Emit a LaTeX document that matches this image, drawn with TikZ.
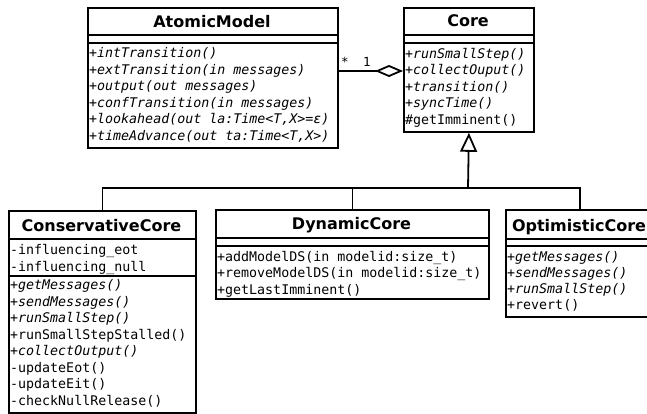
\documentclass[tikz,border=0pt]{standalone}
\usepackage{fontspec}
\usetikzlibrary{arrows.meta}
\newfontfamily\umlsans{DejaVu Sans}
\newfontfamily\umlmono{DejaVu Sans Mono}[ItalicFont={DejaVu Sans Mono Oblique}]
\tikzset{
  umlbox/.style={draw, line width=1.8pt, inner sep=0pt, anchor=north west, fill=white},
  sepline/.style={line width=1.8pt},
  title/.style={font=\umlsans\bfseries\fontsize{16}{18}\selectfont, anchor=base, inner sep=0pt},
  member/.style={font=\umlmono\fontsize{13.3}{16}\selectfont, anchor=base west, inner sep=0pt},
  abstract/.style={member, font=\umlmono\itshape\fontsize{13.3}{16}\selectfont},
  mult/.style={font=\umlmono\fontsize{12.5}{14}\selectfont, anchor=base, inner sep=0pt},
  conn/.style={line width=1.8pt},
}
\begin{document}
\begin{tikzpicture}[x=1pt,y=-1pt]
\clip (0,0) rectangle (647,414);
\fill[white] (0,0) rectangle (647,414);

% ---------- AtomicModel ----------
\node[umlbox, minimum width=250pt, minimum height=140pt] (am) at (87,7) {};
\draw[sepline] (am.west |- 0,35) -- (am.east |- 0,35);
\draw[sepline] (am.west |- 0,43) -- (am.east |- 0,43);
\node[title] (amt) at (212,27.8) {AtomicModel};
\node[abstract] (am1) at (89,58) {+intTransition()};
\node[abstract] (am2) at (89,74.5) {+extTransition(in messages)};
\node[abstract] (am3) at (89,91) {+output(out messages)};
\node[abstract] (am4) at (89,107.5) {+confTransition(in messages)};
\node[abstract] (am5) at (89,124) {+lookahead(out la:Time<T,X>=ε)};
\node[abstract] (am6) at (89,140.5) {+timeAdvance(out ta:Time<T,X>)};

% ---------- Core ----------
\node[umlbox, minimum width=130pt, minimum height=124pt] (core) at (403,7) {};
\draw[sepline] (core.west |- 0,35) -- (core.east |- 0,35);
\draw[sepline] (core.west |- 0,43) -- (core.east |- 0,43);
\node[title] (coret) at (468,27) {Core};
\node[abstract] (c1) at (405,58.5) {+runSmallStep()};
\node[abstract] (c2) at (405,75) {+collectOuput()};
\node[abstract] (c3) at (405,91.5) {+transition()};
\node[abstract] (c4) at (405,108) {+syncTime()};
\node[member] (c5) at (405,124.5) {\#getImminent()};

% ---------- ConservativeCore ----------
\node[umlbox, minimum width=187pt, minimum height=202pt] (cc) at (8,210) {};
\draw[sepline] (cc.west |- 0,239) -- (cc.east |- 0,239);
\draw[sepline] (cc.west |- 0,276) -- (cc.east |- 0,276);
\node[title] (cct) at (101.5,231) {ConservativeCore};
\node[member] (cca1) at (10,254.5) {-influencing\_eot};
\node[member] (cca2) at (10,271) {-influencing\_null};
\node[abstract] (ccm1) at (10,289.5) {+getMessages()};
\node[abstract] (ccm2) at (10,306) {+sendMessages()};
\node[abstract] (ccm3) at (10,322.5) {+runSmallStep()};
\node[member] (ccm4) at (10,339) {+runSmallStepStalled()};
\node[abstract] (ccm5) at (10,355.5) {+collectOutput()};
\node[member] (ccm6) at (10,372) {-updateEot()};
\node[member] (ccm7) at (10,388.5) {-updateEit()};
\node[member] (ccm8) at (10,405) {-checkNullRelease()};

% ---------- DynamicCore ----------
\node[umlbox, minimum width=273pt, minimum height=89pt] (dc) at (215,209) {};
\draw[sepline] (dc.west |- 0,238) -- (dc.east |- 0,238);
\draw[sepline] (dc.west |- 0,246) -- (dc.east |- 0,246);
\node[title] (dct) at (351.5,229) {DynamicCore};
\node[member] (dc1) at (217,261.5) {+addModelDS(in modelid:size\_t)};
\node[member] (dc2) at (217,277.8) {+removeModelDS(in modelid:size\_t)};
\node[member] (dc3) at (217,294) {+getLastImminent()};

% ---------- OptimisticCore ----------
\node[umlbox, minimum width=148pt, minimum height=107pt] (oc) at (505,209) {};
\draw[sepline] (oc.west |- 0,239) -- (oc.east |- 0,239);
\draw[sepline] (oc.west |- 0,246) -- (oc.east |- 0,246);
\node[title] (oct) at (579,231) {OptimisticCore};
\node[abstract] (oc1) at (507,261.5) {+getMessages()};
\node[abstract] (oc2) at (507,277.5) {+sendMessages()};
\node[abstract] (oc3) at (507,293.5) {+runSmallStep()};
\node[member] (oc4) at (507,309.5) {+revert()};

% ---------- aggregation ----------
\draw[conn, -{Diamond[open, length=28pt, width=12pt, line width=1.8pt]}]
  (am.east |- 0,71) -- (core.west |- 0,71);
\node[mult] (mstar) at (345,67) {*};
\node[mult] (mone) at (367,67) {1};

% ---------- generalization ----------
\coordinate (hub) at (468,188);
\draw[conn] (cc.north) -- (cc.north |- hub) -- (oc.north |- hub) -- (oc.north);
\draw[conn] (dc.north) -- (dc.north |- hub);
\draw[conn, -{Triangle[open, length=19pt, width=17pt, line width=1.8pt]}] (hub) -- (core.south);
\end{tikzpicture}
\end{document}
